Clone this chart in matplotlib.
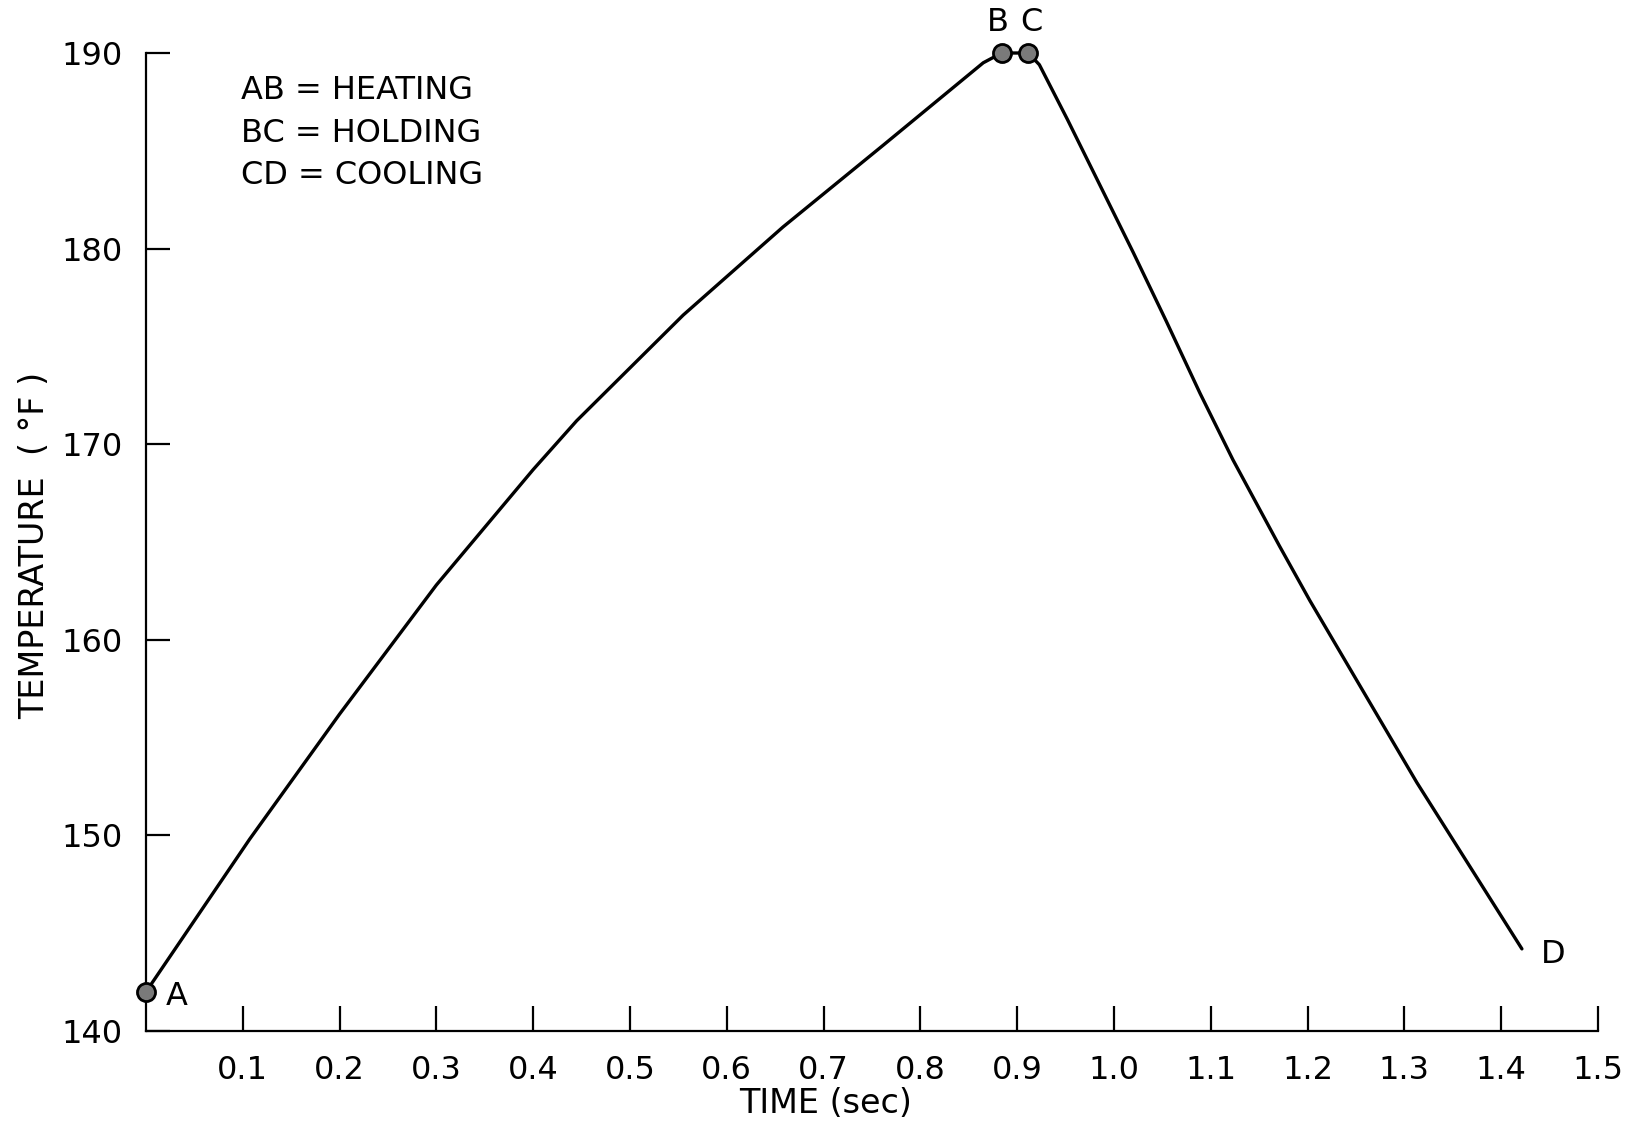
import matplotlib
matplotlib.use("Agg")
import matplotlib.pyplot as plt

# Heating segment A -> B
heat_time = [0.000, 0.107, 0.200, 0.300, 0.400, 0.445, 0.555, 0.658, 0.762, 0.865, 0.884]
heat_temp = [142.0, 149.8, 156.2, 162.8, 168.7, 171.2, 176.6, 181.1, 185.3, 189.5, 190.0]

# Holding segment B -> C
hold_time = [0.884, 0.9115]
hold_temp = [190.0, 190.0]

# Cooling segment C -> D
cool_time = [0.9115, 0.923, 0.952, 0.986, 1.020, 1.054, 1.089, 1.123, 1.171, 1.2025, 1.313, 1.4215]
cool_temp = [190.0, 189.4, 186.6, 183.2, 179.8, 176.3, 172.6, 169.2, 164.8, 162.0, 152.7, 144.2]

# Labelled stage points
point_names = ["A", "B", "C", "D"]
point_time = [0.000, 0.884, 0.9115, 1.4215]
point_temp = [142.0, 190.0, 190.0, 144.2]

x_ticks = [0.1, 0.2, 0.3, 0.4, 0.5, 0.6, 0.7, 0.8, 0.9, 1.0, 1.1, 1.2, 1.3, 1.4, 1.5]
x_tick_labels = ["0.1", "0.2", "0.3", "0.4", "0.5", "0.6", "0.7", "0.8", "0.9",
                 "1.0", "1.1", "1.2", "1.3", "1.4", "1.5"]
y_ticks = [140, 150, 160, 170, 180, 190]

key_lines = ["AB = HEATING", "BC = HOLDING", "CD = COOLING"]

plt.rcParams["font.family"] = ["DejaVu Sans"]
FS = 23

fig = plt.figure(figsize=(16.29, 11.23), dpi=100)
ax = fig.add_axes([0.0896, 0.0819, 0.8913, 0.8709])

t_all = heat_time + hold_time[1:] + cool_time[1:]
T_all = heat_temp + hold_temp[1:] + cool_temp[1:]
ax.plot(t_all, T_all, color="black", lw=2.4, solid_capstyle="round",
        solid_joinstyle="round", clip_on=False, zorder=3)

# Stage markers at A, B, C
ax.plot(point_time[:3], point_temp[:3], linestyle="none", marker="o",
        markersize=13, markerfacecolor="#7a7a7a", markeredgecolor="black",
        markeredgewidth=2.0, clip_on=False, zorder=4)

offsets = {"A": (14, -3), "B": (-3, 22), "C": (2, 22), "D": (14, -4)}
aligns = {"A": ("left", "center"), "B": ("center", "center"),
          "C": ("center", "center"), "D": ("left", "center")}
for name, t, T in zip(point_names, point_time, point_temp):
    ax.annotate(name, (t, T), xytext=offsets[name], textcoords="offset points",
                ha=aligns[name][0], va=aligns[name][1], fontsize=FS,
                annotation_clip=False)

ax.set_xlim(0, 1.5)
ax.set_ylim(140, 190)
ax.set_xticks(x_ticks)
ax.set_xticklabels(x_tick_labels)
ax.set_yticks(y_ticks)

for side in ("top", "right"):
    ax.spines[side].set_visible(False)
for side in ("left", "bottom"):
    ax.spines[side].set_linewidth(1.6)

ax.tick_params(axis="x", direction="in", length=18, width=1.6, pad=17, labelsize=FS)
ax.tick_params(axis="y", direction="in", length=17, width=1.6, pad=17, labelsize=FS)

ax.set_xlabel("TIME (sec)", fontsize=FS + 1, va="center")
ax.xaxis.set_label_coords(0.468, -0.0745)
ax.set_ylabel("TEMPERATURE  ( °F )", fontsize=FS + 1, va="center")
ax.yaxis.set_label_coords(-0.077, 0.497)

for text, y in zip(key_lines, [0.962, 0.918, 0.875]):
    ax.text(0.0654, y, text, transform=ax.transAxes, fontsize=FS,
            ha="left", va="center")

fig.savefig("out.png", dpi=100, facecolor="white")
